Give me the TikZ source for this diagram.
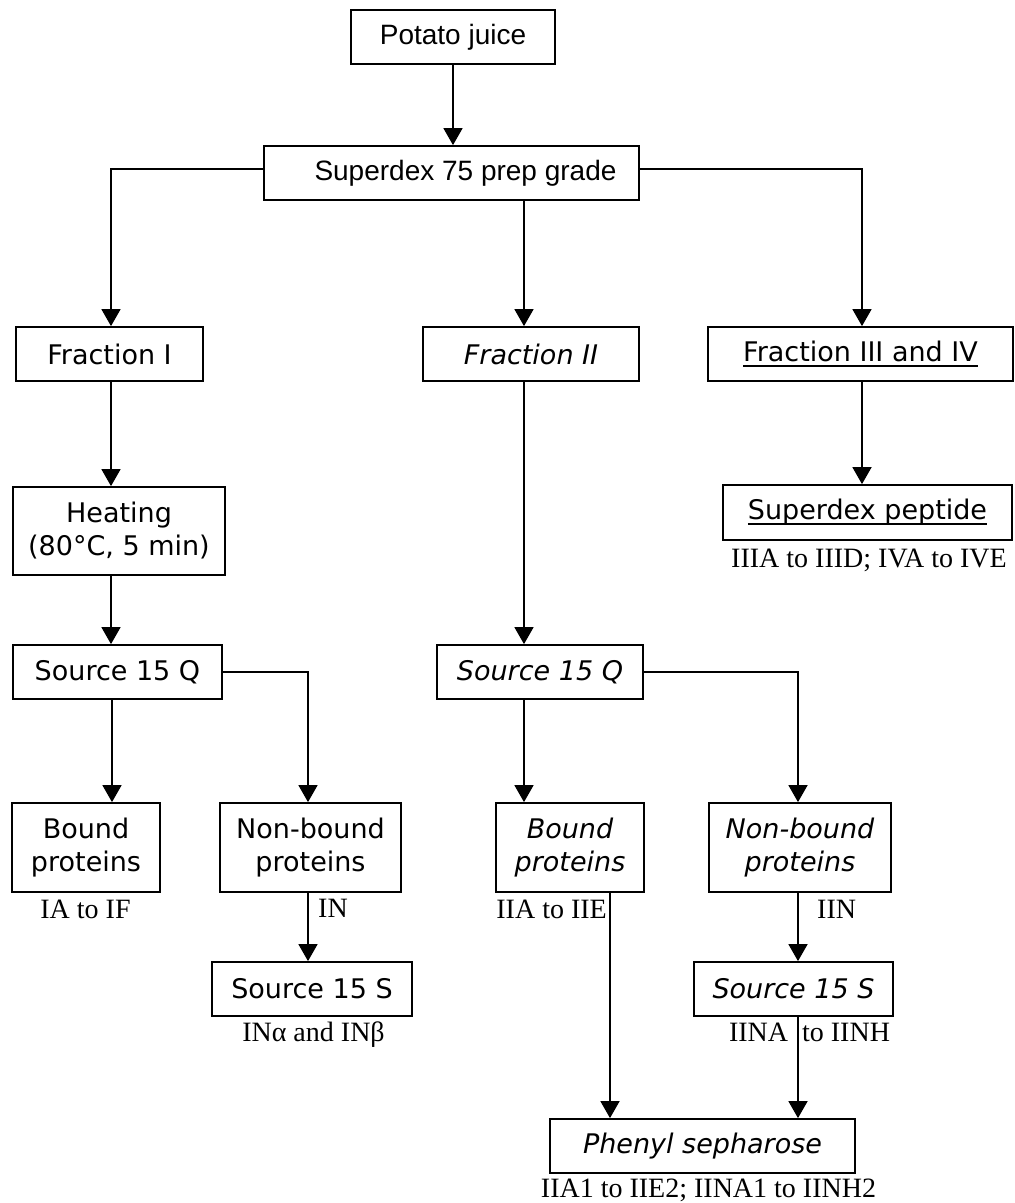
\documentclass[tikz,border=0pt]{standalone}
\usepackage{fontspec}
\setmainfont{Liberation Serif}
\newfontfamily\arialfont{Liberation Sans}
\newfontfamily\comicfont{DejaVu Sans}
\usetikzlibrary{arrows.meta}
\newcommand\myul[1]{\setbox0\hbox{#1}\rlap{\rule[-5.5pt]{\wd0}{2.2pt}}\box0}
\tikzset{
  box/.style={draw, line width=1.8pt, rectangle, inner sep=0pt, align=center,
              font=\comicfont\fontsize{27}{33}\selectfont},
  topbox/.style={box, font=\arialfont\fontsize{28}{33}\selectfont},
  lbl/.style={font=\fontsize{28}{32}\selectfont, inner sep=0pt},
  arr/.style={line width=1.7pt, -{Triangle[width=19pt,length=17pt]}}
}
\begin{document}
\begin{tikzpicture}[x=1pt,y=-1pt]
\useasboundingbox (0,0) rectangle (1015,1203);
% top
\node[topbox, minimum width=204pt, minimum height=54pt] (pj) at (453,37) {Potato juice};
\node[topbox, minimum width=375pt, minimum height=54pt] (sdx) at (451.5,173) {\hspace*{28pt}Superdex 75 prep grade};
% fractions
\node[box, minimum width=187pt, minimum height=54pt] (f1) at (109.5,354) {Fraction I};
\node[box, minimum width=216pt, minimum height=54pt] (f2) at (531,354) {\itshape Fraction II};
\node[box, minimum width=305pt, minimum height=54pt] (f3) at (860.5,354) {\myul{Fraction III and IV}};
\node[box, minimum width=289pt, minimum height=55pt] (sp) at (867.5,512.5) {\myul{Superdex peptide}};
% left column
\node[box, minimum width=212pt, minimum height=88pt] (heat) at (119,531) {Heating\\(80°C, 5 min)};
\node[box, minimum width=209pt, minimum height=54pt] (q1) at (117.5,672) {Source 15 Q};
\node[box, minimum width=148pt, minimum height=89pt] (b1) at (86,847.5) {Bound\\proteins};
\node[box, minimum width=181pt, minimum height=89pt] (n1) at (310.5,847.5) {Non-bound\\proteins};
\node[box, minimum width=200pt, minimum height=54pt] (s1) at (312,989) {Source 15 S};
% middle column
\node[box, minimum width=206pt, minimum height=54pt] (q2) at (540,672) {\itshape Source 15 Q};
\node[box, minimum width=148pt, minimum height=89pt] (b2) at (570,847.5) {\itshape Bound\\\itshape proteins};
\node[box, minimum width=182pt, minimum height=89pt] (n2) at (800,847.5) {\itshape Non-bound\\\itshape proteins};
\node[box, minimum width=199pt, minimum height=54pt] (s2) at (793.5,989) {\itshape Source 15 S};
\node[box, minimum width=305pt, minimum height=54pt] (ph) at (702.5,1146) {\itshape Phenyl sepharose};
% labels
\node[lbl, anchor=base] (l3) at (869,567) {IIIA to IIID; IVA to IVE};
\node[lbl, anchor=base] (l1) at (85.5,918) {IA to IF};
\node[lbl, anchor=base west] (lin) at (318,917) {IN};
\node[lbl, anchor=base] (lina) at (313.5,1041) {INα and INβ};
\node[lbl, anchor=base east] (l2) at (607,918) {IIA to IIE};
\node[lbl, anchor=base west] (liin) at (817,918) {IIN};
\node[lbl, anchor=base] (liina) at (809.5,1041) {IINA\hspace{14pt}to IINH};
\node[lbl, anchor=base] (lph) at (708.5,1197) {IIA1 to IIE2; IINA1 to IINH2};
% connectors
\draw[arr] (pj.south) -- (pj.south |- sdx.north);
\draw[arr] ([yshift=4pt]sdx.west) -| ([xshift=1.5pt]f1.north);
\draw[arr] ([yshift=4pt]sdx.east) -| ([xshift=1.5pt]f3.north);
\draw[arr] ([xshift=72.5pt]sdx.south) -- ([xshift=-7pt]f2.north);
\draw[arr] ([xshift=1.5pt]f3.south) -- ([xshift=1.5pt]f3.south |- sp.north);
\draw[arr] ([xshift=1.5pt]f1.south) -- ([xshift=1.5pt]f1.south |- heat.north);
\draw[arr] ([xshift=1.5pt]f1.south |- heat.south) -- ([xshift=1.5pt]f1.south |- q1.north);
\draw[arr] ([xshift=-5.5pt]q1.south) -- ([xshift=-5.5pt]q1.south |- b1.north);
\draw[arr] (q1.east) -| ([xshift=-2.5pt]n1.north);
\draw[arr] ([xshift=-2.5pt]n1.south) -- ([xshift=-2.5pt]n1.south |- s1.north);
\draw[arr] ([xshift=-7pt]f2.south) -- ([xshift=-7pt]f2.south |- q2.north);
\draw[arr] ([xshift=-16pt]q2.south) -- ([xshift=-16pt]q2.south |- b2.north);
\draw[arr] (q2.east) -| ([xshift=-2pt]n2.north);
\draw[arr] ([xshift=-2pt]n2.south) -- ([xshift=-2pt]n2.south |- s2.north);
\draw[arr] ([xshift=40pt]b2.south) -- ([xshift=40pt]b2.south |- ph.north);
\draw[arr] ([xshift=4.5pt]s2.south) -- ([xshift=4.5pt]s2.south |- ph.north);
\end{tikzpicture}
\end{document}
